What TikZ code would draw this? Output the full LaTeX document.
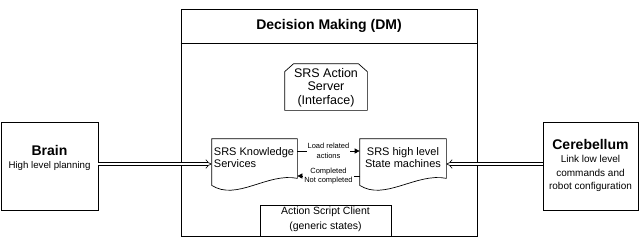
\documentclass[tikz,border=0pt]{standalone}
\usepackage{fontspec}
\setmainfont{Liberation Sans}
\usepackage{xcolor}
\usetikzlibrary{arrows.meta,positioning,calc}
\definecolor{LineColor}{RGB}{0,0,0}
\definecolor{PaperColor}{RGB}{255,255,255}

\begin{document}
\begin{tikzpicture}[x=1pt,y=-1pt,line width=0.7pt,
    unitbox/.style={draw=LineColor, minimum height=88pt, inner sep=0pt},
    docbox/.style={minimum height=50pt, inner sep=0pt},
    bigname/.style={font=\fontsize{14}{16}\selectfont\bfseries},
    bodytext/.style={font=\fontsize{10}{13.5}\selectfont, align=center, inner sep=0pt},
    smalltext/.style={font=\fontsize{7.5}{9.5}\selectfont, align=center, inner sep=1pt, fill=PaperColor},
    feed/.style={double=PaperColor, double distance=2.6pt, line width=0.6pt, -{Implies}},
    msg/.style={-{Triangle[length=5pt,width=5pt]}}]
  \useasboundingbox (0,0) rectangle (640,244);

  % outer units
  \node[unitbox, minimum width=97pt] (brain) at (49.5,166) {};
  \node[bigname] (brainname) at (49.5,150) {Brain};
  \node[bodytext, font=\fontsize{9.7}{12}\selectfont] (brainnote) at (49.5,166) {High level planning};

  \node[unitbox, minimum width=95pt] (cbl) at (590.5,166) {};
  \node[bigname] (cblname) at (590.5,144) {Cerebellum};
  \node[bodytext] (cblnote) at (590.5,173.5) {Link low level\\commands and\\robot configuration};

  % decision making block
  \node[draw=LineColor, minimum width=296pt, minimum height=227pt, inner sep=0pt] (dm) at (329,122.5) {};
  \node[bigname] (dmname) at (329,26) {Decision Making (DM)};
  \draw (dm.west |- 0,43) -- (dm.east |- 0,43);

  \node[minimum width=82pt, minimum height=46pt, inner sep=0pt] (srv) at (326,87) {};
  \draw (srv.south west) -- ($(srv.north west)+(0,8)$) -- ($(srv.north west)+(9,0)$)
     -- ($(srv.north east)+(-9,0)$) -- ($(srv.north east)+(0,8)$) -- (srv.south east) -- cycle;
  \node[bodytext, font=\fontsize{12.5}{13.5}\selectfont] (srvtext) at (326,87.5) {SRS Action\\Server\\(Interface)};

  \node[docbox, minimum width=85pt] (ksv) at (254.5,164) {};
  \draw ($(ksv.south west)+(0,-4)$) -- (ksv.north west) -- (ksv.north east) -- ($(ksv.south east)+(0,-11)$)
     .. controls ($(ksv.south east)+(-30,-17)$) and ($(ksv.south west)+(25,12)$) .. ($(ksv.south west)+(0,-4)$);
  \node[bodytext, font=\fontsize{11}{12}\selectfont, align=left] (ksvtext) at (254,158) {SRS Knowledge\\Services};

  \node[docbox, minimum width=86pt] (ssm) at (403,164) {};
  \draw ($(ssm.south west)+(0,-4)$) -- (ssm.north west) -- (ssm.north east) -- ($(ssm.south east)+(0,-11)$)
     .. controls ($(ssm.south east)+(-30,-17)$) and ($(ssm.south west)+(25,12)$) .. ($(ssm.south west)+(0,-4)$);
  \node[bodytext, font=\fontsize{11}{12}\selectfont] (ssmtext) at (403,158) {SRS high level\\State machines};

  \node[draw=LineColor, minimum width=131pt, minimum height=31pt, inner sep=0pt] (asc) at (325.5,220.5) {};
  \node[bodytext, font=\fontsize{10.5}{15.5}\selectfont] (asctext) at (325.5,219.5) {Action Script Client\\(generic states)};

  % connections
  \draw[feed] (brain.east |- ksv.west) -- (ksv.west);
  \draw[feed] (cbl.west |- ssm.east) -- (ssm.east);
  \draw[msg] ($(ksv.east)+(0,-13)$) -- node[smalltext] {Load related\\actions} ($(ssm.west)+(0,-13)$);
  \draw[msg] ($(ssm.west)+(0,12)$) -- node[smalltext] {Completed\\Not completed} ($(ksv.east)+(0,12)$);
\end{tikzpicture}
\end{document}
